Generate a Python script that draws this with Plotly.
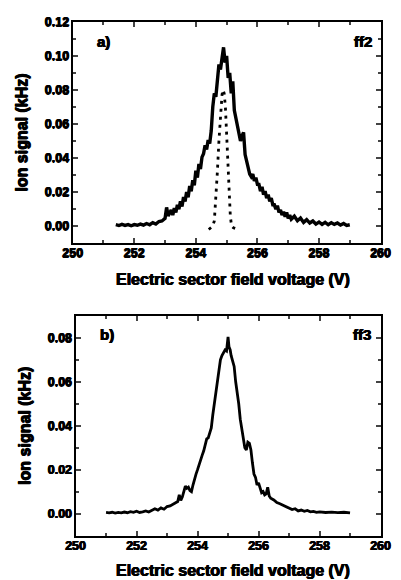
import plotly.graph_objects as go

# ---- Panel a) ff2 : solid scan ----
a_volt = [251.4, 251.5, 251.6, 251.7, 251.8, 251.9, 252.0, 252.1, 252.2, 252.3,
          252.4, 252.5, 252.6, 252.7, 252.8, 252.9, 253.0, 253.05, 253.1, 253.15,
          253.2, 253.25, 253.3, 253.35, 253.4, 253.45, 253.5, 253.55, 253.6, 253.65,
          253.7, 253.75, 253.8, 253.85, 253.9, 253.95, 254.0, 254.05, 254.1, 254.15,
          254.2, 254.25, 254.3, 254.35, 254.4, 254.45, 254.5, 254.55, 254.6, 254.65,
          254.7, 254.75, 254.8, 254.85, 254.9, 254.95, 255.0, 255.05, 255.1, 255.15,
          255.2, 255.25, 255.3, 255.35, 255.4, 255.45, 255.5, 255.55, 255.6, 255.65,
          255.7, 255.75, 255.8, 255.85, 255.9, 255.95, 256.0, 256.05, 256.1, 256.15,
          256.2, 256.25, 256.3, 256.35, 256.4, 256.45, 256.5, 256.55, 256.6, 256.65,
          256.7, 256.75, 256.8, 256.85, 256.9, 256.95, 257.0, 257.05, 257.1, 257.2,
          257.3, 257.4, 257.5, 257.6, 257.7, 257.8, 257.9, 258.0, 258.1, 258.2,
          258.3, 258.4, 258.5, 258.6, 258.7, 258.8, 258.9, 259.0]
a_signal = [0.0008, 0.0003, 0.0010, 0.0004, 0.0009, 0.0002, 0.0009, 0.0005, 0.0012, 0.0006,
            0.0015, 0.0008, 0.0020, 0.0012, 0.0027, 0.0030, 0.0045, 0.0110, 0.0060, 0.0080,
            0.0095, 0.0065, 0.0105, 0.0080, 0.0125, 0.0100, 0.0145, 0.0115, 0.0170, 0.0145,
            0.0200, 0.0170, 0.0235, 0.0205, 0.0270, 0.0240, 0.0325, 0.0285, 0.0365, 0.0335,
            0.0405, 0.0425, 0.0475, 0.0450, 0.0505, 0.0485, 0.0560, 0.0700, 0.0780, 0.0760,
            0.0880, 0.0950, 0.0920, 0.1000, 0.1050, 0.0960, 0.1000, 0.0870, 0.0900, 0.0780,
            0.0850, 0.0680, 0.0640, 0.0580, 0.0560, 0.0500, 0.0530, 0.0550, 0.0420, 0.0380,
            0.0330, 0.0305, 0.0290, 0.0305, 0.0265, 0.0285, 0.0245, 0.0245, 0.0205, 0.0230,
            0.0185, 0.0205, 0.0165, 0.0185, 0.0145, 0.0165, 0.0125, 0.0125, 0.0100, 0.0120,
            0.0080, 0.0095, 0.0065, 0.0085, 0.0055, 0.0080, 0.0045, 0.0065, 0.0040, 0.0058,
            0.0032, 0.0048, 0.0022, 0.0038, 0.0018, 0.0030, 0.0012, 0.0024, 0.0010, 0.0022,
            0.0008, 0.0020, 0.0010, 0.0018, 0.0006, 0.0015, 0.0004, 0.0008]

# ---- Panel a) dotted narrow peak ----
a_dot_volt = [254.42, 254.50, 254.55, 254.60, 254.65, 254.70, 254.75, 254.80, 254.85, 254.88,
              254.92, 254.96, 255.00, 255.04, 255.08, 255.12, 255.16, 255.22, 255.30, 255.35]
a_dot_signal = [-0.002, -0.0005, 0.000, 0.003, 0.015, 0.032, 0.050, 0.066, 0.077, 0.080,
                0.078, 0.070, 0.055, 0.038, 0.020, 0.006, 0.000, -0.001, -0.0015, -0.001]

# ---- Panel b) ff3 ----
b_volt = [251.0, 251.1, 251.2, 251.3, 251.4, 251.5, 251.6, 251.7, 251.8, 251.9,
          252.0, 252.1, 252.2, 252.3, 252.4, 252.5, 252.6, 252.7, 252.8, 252.9,
          253.0, 253.1, 253.2, 253.3, 253.35, 253.4, 253.45, 253.5, 253.55, 253.6,
          253.65, 253.7, 253.75, 253.8, 253.85, 253.9, 253.95, 254.0, 254.05, 254.1,
          254.15, 254.2, 254.25, 254.3, 254.35, 254.4, 254.45, 254.5, 254.55, 254.6,
          254.65, 254.7, 254.75, 254.8, 254.85, 254.9, 254.95, 255.0, 255.03, 255.07,
          255.1, 255.15, 255.2, 255.25, 255.3, 255.35, 255.4, 255.45, 255.5, 255.55,
          255.6, 255.65, 255.7, 255.75, 255.8, 255.85, 255.9, 255.95, 256.0, 256.05,
          256.1, 256.15, 256.2, 256.25, 256.3, 256.35, 256.4, 256.5, 256.6, 256.7,
          256.8, 256.9, 257.0, 257.1, 257.2, 257.3, 257.4, 257.5, 257.6, 257.7,
          257.8, 257.9, 258.0, 258.2, 258.4, 258.6, 258.8, 259.0]
b_signal = [0.0005, 0.0003, 0.0006, 0.0002, 0.0005, 0.0003, 0.0007, 0.0004, 0.0009, 0.0006,
            0.0011, 0.0005, 0.0008, 0.0012, 0.0007, 0.0015, 0.0022, 0.0016, 0.0026, 0.0020,
            0.0032, 0.0035, 0.0042, 0.0050, 0.0055, 0.0085, 0.0060, 0.0075, 0.0095, 0.0125,
            0.0115, 0.0120, 0.0105, 0.0100, 0.0130, 0.0160, 0.0180, 0.0200, 0.0225, 0.0250,
            0.0265, 0.0285, 0.0320, 0.0340, 0.0345, 0.0375, 0.0390, 0.0450, 0.0500, 0.0545,
            0.0590, 0.0630, 0.0700, 0.0720, 0.0730, 0.0745, 0.0740, 0.0805, 0.0760, 0.0745,
            0.0720, 0.0690, 0.0670, 0.0600, 0.0560, 0.0500, 0.0430, 0.0380, 0.0340, 0.0300,
            0.0290, 0.0325, 0.0320, 0.0290, 0.0230, 0.0180, 0.0165, 0.0130, 0.0140, 0.0110,
            0.0095, 0.0100, 0.0085, 0.0090, 0.0120, 0.0080, 0.0070, 0.0062, 0.0050, 0.0045,
            0.0038, 0.0030, 0.0025, 0.0018, 0.0022, 0.0012, 0.0016, 0.0010, 0.0014, 0.0008,
            0.0010, 0.0006, 0.0008, 0.0005, 0.0007, 0.0004, 0.0006, 0.0003]

x_ticks = [250, 252, 254, 256, 258, 260]
a_y_ticks = [0.00, 0.02, 0.04, 0.06, 0.08, 0.10, 0.12]
b_y_ticks = [0.00, 0.02, 0.04, 0.06, 0.08]
x_title = "Electric sector field voltage (V)"
y_title = "Ion signal (kHz)"

FONT = "Liberation Sans"
W, H = 401, 580
HEAVY = "0.5px 0 0 black, -0.5px 0 0 black, 0 0.4px 0 black"

fig = go.Figure()
fig.add_trace(go.Scatter(x=a_volt, y=a_signal, mode="lines",
                         line=dict(color="black", width=3.4), xaxis="x", yaxis="y"))
fig.add_trace(go.Scatter(x=a_dot_volt, y=a_dot_signal, mode="lines",
                         line=dict(color="black", width=2.8, dash="3px,5px"),
                         xaxis="x", yaxis="y"))
fig.add_trace(go.Scatter(x=b_volt, y=b_signal, mode="lines",
                         line=dict(color="black", width=2.8), xaxis="x2", yaxis="y2"))

tickfont = dict(family=FONT, size=12.5, color="black", weight="bold", shadow=HEAVY)
titlefont = dict(family=FONT, size=16, color="black", weight="bold", shadow=HEAVY)

def xax(dom, anchor):
    return dict(domain=dom, anchor=anchor, range=[250, 260], tickvals=x_ticks,
                ticktext=[str(v) for v in x_ticks], ticks="inside", ticklen=5, tickwidth=1.5,
                minor=dict(dtick=1, ticks="inside", ticklen=3, tickwidth=1.5, tick0=250),
                showline=True, linewidth=2, linecolor="black", mirror="ticks",
                showgrid=False, zeroline=False, ticklabelstandoff=-3,
                tickfont=tickfont)

def yax(dom, anchor, rng, tv):
    return dict(domain=dom, anchor=anchor, range=rng, tickvals=tv,
                ticktext=["%.2f" % v for v in tv], ticks="inside", ticklen=5, tickwidth=1.5,
                minor=dict(dtick=0.01, tick0=0, ticks="inside", ticklen=3, tickwidth=1.5),
                showline=True, linewidth=2, linecolor="black", mirror="ticks",
                showgrid=False, zeroline=False, ticklabelstandoff=-1,
                tickfont=tickfont,
                title=dict(text=y_title, standoff=13, font=titlefont))

fig.update_layout(
    width=W, height=H, margin=dict(l=0, r=0, t=0, b=0),
    paper_bgcolor="white", plot_bgcolor="white", showlegend=False,
    xaxis=xax([66 / W, 390 / W], "y"),
    yaxis=yax([1 - 239 / H, 1 - 15 / H], "x", [-0.01, 0.12], a_y_ticks),
    xaxis2=xax([69 / W, 390 / W], "y2"),
    yaxis2=yax([1 - 535 / H, 1 - 312.7 / H], "x2", [-0.01, 0.09], b_y_ticks),
)

for py in [276, 570]:
    fig.add_annotation(x=235 / W, y=1 - py / H, xref="paper", yref="paper", text=x_title,
                       xanchor="center", yanchor="middle", showarrow=False, font=titlefont)

lab = dict(family=FONT, size=15, color="black", weight="bold", shadow=HEAVY)
for txt, px, py in [("a)", 98, 35), ("ff2", 372, 35), ("b)", 102, 331), ("ff3", 371, 331)]:
    fig.add_annotation(x=px / W, y=1 - py / H, xref="paper", yref="paper", text=txt,
                       xanchor="center", yanchor="middle", showarrow=False, font=lab)

fig.write_html("out.html")
